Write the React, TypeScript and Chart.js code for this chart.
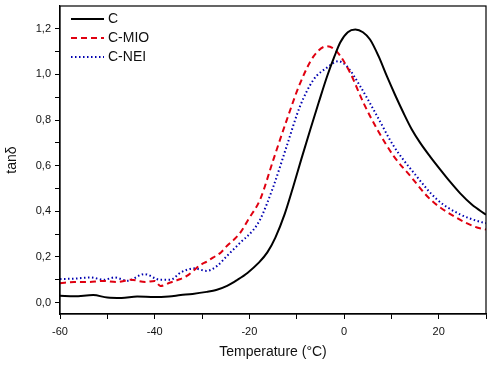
import React, { useEffect, useRef } from "react";
import { Chart, registerables } from "chart.js";

Chart.register(...registerables);

// Temperature (°C) and tan δ values
const cTemp = [-60, -57, -53, -50, -47, -43.7, -40, -37, -34.5, -32, -29, -27, -24.7, -22.5, -20.4, -18, -16.2, -14.5, -12.5, -10.7, -9, -7.1, -5.3, -3.6, -2, -0.8, 0.8, 2.4, 4, 5.5, 7.3, 9.1, 10.8, 12.6, 14.3, 16.1, 18.2, 20.3, 22.4, 24.5, 27, 30];
const cVal = [0.03, 0.028, 0.033, 0.022, 0.02, 0.027, 0.024, 0.027, 0.033, 0.038, 0.047, 0.055, 0.073, 0.1, 0.13, 0.175, 0.22, 0.285, 0.39, 0.51, 0.63, 0.76, 0.88, 0.99, 1.08, 1.14, 1.185, 1.197, 1.185, 1.153, 1.08, 0.99, 0.91, 0.83, 0.76, 0.7, 0.64, 0.584, 0.53, 0.48, 0.43, 0.385];

const mioTemp = [-60, -57, -54, -51, -48, -45, -42, -40, -38.8, -36.7, -35, -33.2, -31.8, -30.4, -29, -27.6, -26, -24.7, -23.3, -21.9, -20.2, -17.7, -14.9, -12.1, -9.3, -6.4, -3.6, -1.5, 1.3, 4.1, 7.0, 10.5, 14.0, 18.2, 23.1, 28.1, 30];
const mioVal = [0.085, 0.09, 0.09, 0.095, 0.09, 0.1, 0.09, 0.095, 0.073, 0.088, 0.1, 0.117, 0.14, 0.164, 0.18, 0.198, 0.22, 0.249, 0.275, 0.307, 0.365, 0.453, 0.628, 0.8, 0.96, 1.08, 1.124, 1.1, 1.007, 0.876, 0.76, 0.642, 0.555, 0.453, 0.38, 0.329, 0.32];

const neiTemp = [-60, -57, -53.5, -50.7, -48.5, -45.7, -42.2, -38.8, -36.7, -34.5, -31.7, -29, -26.8, -24.7, -21.9, -19.1, -17.7, -14.9, -12.1, -9.3, -6.4, -3.6, -1.2, 0.6, 3.4, 7.0, 10.5, 14.7, 19.6, 24.5, 29.5, 30];
const neiVal = [0.103, 0.105, 0.11, 0.1, 0.11, 0.096, 0.125, 0.1, 0.1, 0.132, 0.15, 0.139, 0.161, 0.205, 0.263, 0.32, 0.365, 0.51, 0.686, 0.86, 0.978, 1.03, 1.058, 1.036, 0.949, 0.817, 0.686, 0.57, 0.453, 0.387, 0.35, 0.348];

const seriesNames = ["C", "C-MIO", "C-NEI"];
const xTicks = [-60, -50, -40, -30, -20, -10, 0, 10, 20, 30];
const xLabeled = [-60, -40, -20, 0, 20];
const yTicks = [0, 0.1, 0.2, 0.3, 0.4, 0.5, 0.6, 0.7, 0.8, 0.9, 1.0, 1.1, 1.2];
const yLabeled = [0, 0.2, 0.4, 0.6, 0.8, 1.0, 1.2];

const FONT = "Arial, 'Liberation Sans', sans-serif";

const toPoints = (xs: number[], ys: number[]) => xs.map((x, i) => ({ x, y: ys[i] }));

const framePlugin = {
  id: "frame",
  afterDraw(chart: any) {
    const { ctx, chartArea } = chart;
    ctx.save();
    ctx.strokeStyle = "#000";
    ctx.lineWidth = 1.2;
    ctx.strokeRect(chartArea.left, chartArea.top, chartArea.right - chartArea.left, chartArea.bottom - chartArea.top);
    // legend
    const items = chart.data.datasets;
    const x0 = chartArea.left + 11;
    const x1 = chartArea.left + 44;
    items.forEach((ds: any, i: number) => {
      const y = chartArea.top + 13 + i * 19;
      ctx.beginPath();
      ctx.setLineDash(ds.borderDash || []);
      ctx.strokeStyle = ds.borderColor;
      ctx.lineWidth = ds.borderWidth;
      ctx.moveTo(x0, y);
      ctx.lineTo(x1, y);
      ctx.stroke();
      ctx.setLineDash([]);
      ctx.fillStyle = "#111";
      ctx.font = `14px ${FONT}`;
      ctx.textBaseline = "middle";
      ctx.textAlign = "left";
      ctx.fillText(ds.label, x1 + 4, y);
    });
    ctx.restore();
  },
};

export default function App() {
  const ref = useRef<HTMLCanvasElement | null>(null);
  useEffect(() => {
    document.body.style.margin = "0";
    const chart = new Chart(ref.current as HTMLCanvasElement, {
      type: "line",
      data: {
        datasets: [
          { label: seriesNames[0], data: toPoints(cTemp, cVal), borderColor: "#000000", borderWidth: 2, pointRadius: 0, cubicInterpolationMode: "monotone" },
          { label: seriesNames[1], data: toPoints(mioTemp, mioVal), borderColor: "#e00010", borderWidth: 2, borderDash: [6, 4], pointRadius: 0, cubicInterpolationMode: "monotone" },
          { label: seriesNames[2], data: toPoints(neiTemp, neiVal), borderColor: "#0000b0", borderWidth: 2, borderDash: [1.5, 2.5], pointRadius: 0, cubicInterpolationMode: "monotone" },
        ] as any,
      },
      options: {
        animation: false,
        responsive: false,
        layout: { padding: { top: 6, right: 1, left: 0, bottom: 0 } },
        plugins: { legend: { display: false }, tooltip: { enabled: false } },
        scales: {
          x: {
            type: "linear",
            min: -60,
            max: 30,
            afterBuildTicks: (s: any) => { s.ticks = xTicks.map((v) => ({ value: v })); },
            afterFit: (s: any) => { s.height = 54; s.paddingLeft = 0; s.paddingRight = 0; },
            ticks: {
              autoSkip: false,
              maxRotation: 0,
              padding: 6,
              color: "#111",
              font: { size: 11, family: FONT },
              callback: (v: any) => (xLabeled.includes(Number(v)) ? String(v) : ""),
            },
            grid: { drawOnChartArea: false, tickLength: 5, color: "#000", tickWidth: 1 },
            border: { display: true, color: "#000", width: 1.2 },
            title: { display: true, text: "Temperature (°C)", color: "#111", font: { size: 14, family: FONT }, padding: { top: 4, bottom: 7 } },
          },
          y: {
            type: "linear",
            min: -0.05,
            max: 1.3,
            afterBuildTicks: (s: any) => { s.ticks = yTicks.map((v) => ({ value: v })); },
            afterFit: (s: any) => { s.width = 60; s.paddingTop = 0; s.paddingBottom = 0; },
            ticks: {
              autoSkip: false,
              padding: 4,
              color: "#111",
              font: { size: 11, family: FONT },
              callback: (v: any) => {
                const n = Number(v);
                return yLabeled.some((l) => Math.abs(l - n) < 1e-6) ? n.toFixed(1).replace(".", ",") : "";
              },
            },
            grid: { drawOnChartArea: false, tickLength: 5, color: "#000", tickWidth: 1 },
            border: { display: true, color: "#000", width: 1.2 },
            title: { display: true, text: "tanδ", color: "#111", font: { size: 14, family: FONT }, padding: { top: 4, bottom: 4 } },
          },
        },
      } as any,
      plugins: [framePlugin],
    });
    return () => chart.destroy();
  }, []);
  return <canvas ref={ref} width={487} height={368} style={{ display: "block" }} />;
}
